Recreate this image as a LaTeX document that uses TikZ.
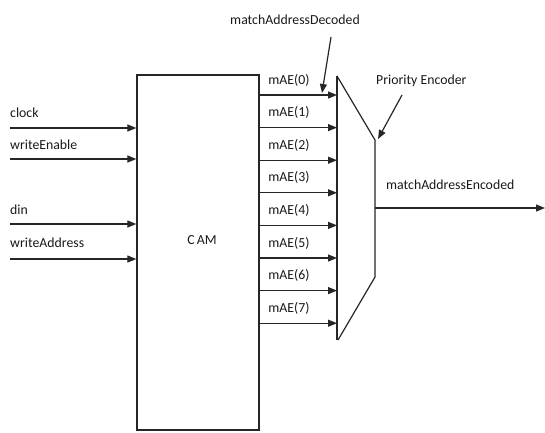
\documentclass[tikz,border=0pt]{standalone}
\usepackage{fontspec}
\setmainfont{Carlito}
\usetikzlibrary{arrows.meta}
\begin{document}
\begin{tikzpicture}[x=1pt,y=-1pt,
  wire/.style={draw=black!85,line width=1.2pt},
  sig/.style={wire,-{Triangle[length=9pt,width=7pt]}},
  txt/.style={font=\fontsize{13.8}{15}\selectfont,text=black!90,inner sep=0pt},
  block/.style={draw=black!85,line width=1.3pt,minimum width=122pt,minimum height=355pt,inner sep=0pt}]
  \useasboundingbox (0,0) rectangle (545,432);

  % CAM block
  \node[block] (cam) at (198,252.5) {};
  \node[txt] (camtext) at (202,240) {C\,AM};

  % inputs
  \foreach \name/\lab/\ly/\wy in {clk/clock/113/128, we/writeEnable/145/159, din/din/210/224, wa/writeAddress/243/259}{
    \coordinate (src-\name) at (10,\wy);
    \node[txt,anchor=west] (lab-\name) at (10,\ly) {\lab};
    \draw[sig] (src-\name) -- (src-\name -| cam.west);
  }

  % priority encoder outline
  \coordinate (enc-tl) at (337,76);
  \coordinate (enc-tip) at (375,140);
  \coordinate (enc-rb) at (375,277);
  \coordinate (enc-bl) at (338,340);
  \draw[wire] (enc-tl) -- (enc-tip) -- (enc-rb) -- (enc-bl);
  \draw[wire] (enc-tl) -- (337,340);

  % decoded match lines
  \foreach \i in {0,...,7}{
    \pgfmathsetmacro{\yy}{95+32.6*\i}
    \coordinate (mae-\i) at (259,\yy);
    \draw[sig] (mae-\i) -- (337,\yy);
    \node[txt] (mlab-\i) at (289,\yy-15) {mAE(\i)};
  }

  % encoded output
  \coordinate (enc-out) at (375,208);
  \coordinate (out-end) at (545,208);
  \draw[sig] (enc-out) -- (out-end);
  \node[txt,anchor=west] (lab-out) at (386,185) {matchAddressEncoded};

  % callouts
  \node[txt] (lab-dec) at (295,20) {matchAddressDecoded};
  \coordinate (dec-from) at (331,37);
  \coordinate (dec-to) at (322,93);
  \draw[sig] (dec-from) -- (dec-to);

  \node[txt,anchor=west] (lab-pe) at (376,81) {Priority Encoder};
  \coordinate (pe-from) at (402,95);
  \coordinate (pe-to) at (378,139);
  \draw[sig] (pe-from) -- (pe-to);
\end{tikzpicture}
\end{document}
